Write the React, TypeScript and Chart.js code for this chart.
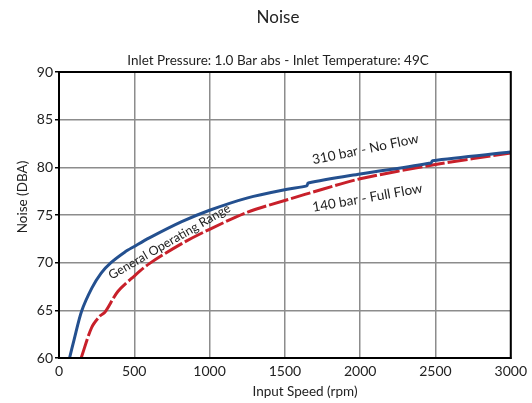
import React, { useEffect, useRef } from "react";
import { Chart, registerables } from "chart.js";

Chart.register(...registerables);

const FONT = "Lato";

const noFlowRpm = [70, 100, 150, 217, 280, 345, 436, 500, 600, 815, 1000, 1253, 1516, 1645, 1655, 2000, 2470, 2480, 3000];
const noFlowDba = [60, 61.9, 64.9, 67.3, 68.9, 70, 71.1, 71.7, 72.6, 74.3, 75.5, 76.8, 77.7, 78.05, 78.35, 79.3, 80.45, 80.7, 81.6];

const fullFlowRpm = [147, 217, 272, 305, 392, 500, 600, 815, 1000, 1253, 1516, 1750, 2000, 2500, 3000];
const fullFlowDba = [60, 63.2, 64.4, 64.8, 67.0, 68.6, 69.9, 72.0, 73.5, 75.3, 76.6, 77.7, 78.8, 80.3, 81.5];

const seriesNames = ["310 bar - No Flow", "140 bar - Full Flow"];
const titleText = "Noise";
const subtitleText = "Inlet Pressure: 1.0 Bar abs - Inlet Temperature: 49C";
const xTitle = "Input Speed (rpm)";
const yTitle = "Noise (DBA)";
const rangeLabel = "General Operating Range";

const BLUE = "#24508f";
const RED = "#c8202a";

export default function App() {
  const ref = useRef<HTMLCanvasElement | null>(null);

  useEffect(() => {
    const canvas = ref.current;
    if (!canvas) return;

    const textPlugin = {
      id: "texts",
      afterDraw(chart: any) {
        const ctx = chart.ctx as CanvasRenderingContext2D;
        const a = chart.chartArea;
        const xs = chart.scales.x;
        const ys = chart.scales.y;
        ctx.save();
        ctx.strokeStyle = "#000";
        ctx.lineWidth = 2;
        ctx.strokeRect(a.left, a.top, a.right - a.left, a.bottom - a.top);

        ctx.fillStyle = "#222";
        ctx.textAlign = "center";
        ctx.textBaseline = "middle";
        ctx.font = `17px ${FONT}`;
        ctx.fillText(titleText, 278, 18);
        ctx.font = `13.5px ${FONT}`;
        ctx.fillText(subtitleText, 278, 61);

        ctx.font = `13.5px ${FONT}`;
        ctx.fillText(xTitle, 305, 392);
        ctx.save();
        ctx.translate(23, 197);
        ctx.rotate(-Math.PI / 2);
        ctx.fillText(yTitle, 0, 0);
        ctx.restore();

        const rotLabel = (t: string, rpm: number, dba: number, deg: number, size: number) => {
          ctx.save();
          ctx.translate(xs.getPixelForValue(rpm), ys.getPixelForValue(dba));
          ctx.rotate((deg * Math.PI) / 180);
          ctx.font = `${size}px ${FONT}`;
          ctx.fillText(t, 0, 0);
          ctx.restore();
        };
        rotLabel(rangeLabel, 734, 72.2, -30, 12.5);
        rotLabel(seriesNames[0], 2035, 81.9, -11.5, 13.5);
        rotLabel(seriesNames[1], 2048, 76.8, -10, 13.5);
        ctx.restore();
      },
    };

    const chart = new Chart(canvas, {
      type: "line",
      data: {
        datasets: [
          {
            label: seriesNames[0],
            data: noFlowRpm.map((x, i) => ({ x, y: noFlowDba[i] })),
            borderColor: BLUE,
            borderWidth: 3,
            pointRadius: 0,
            tension: 0.3,
            fill: false,
          },
          {
            label: seriesNames[1],
            data: fullFlowRpm.map((x, i) => ({ x, y: fullFlowDba[i] })),
            borderColor: RED,
            borderWidth: 3,
            borderDash: [20, 3],
            pointRadius: 0,
            tension: 0.3,
            fill: false,
          },
        ],
      },
      options: {
        animation: false,
        responsive: false,
        maintainAspectRatio: false,
        layout: { padding: { left: 0, top: 72, right: 16, bottom: 0 } },
        plugins: { legend: { display: false }, tooltip: { enabled: false }, title: { display: false } },
        scales: {
          x: {
            type: "linear",
            min: 0,
            max: 3000,
            afterFit: (s: any) => {
              s.height = 45;
            },
            ticks: {
              stepSize: 500,
              color: "#222",
              font: { family: FONT, size: 14 },
              padding: 5,
              callback: (v: any) => String(v),
            },
            grid: { color: "#8c8c8c", lineWidth: 1.5, drawTicks: false },
            border: { color: "#000", width: 2 },
          },
          y: {
            min: 60,
            max: 90,
            afterFit: (s: any) => {
              s.width = 59;
            },
            ticks: { stepSize: 5, color: "#222", font: { family: FONT, size: 14 }, padding: 2 },
            grid: { color: "#8c8c8c", lineWidth: 1.5, tickLength: 4, tickColor: "#000", tickWidth: 1.5 },
            border: { color: "#000", width: 2 },
          },
        },
      } as any,
      plugins: [textPlugin],
    });
    return () => chart.destroy();
  }, []);

  return (
    <div style={{ position: "fixed", left: 0, top: 0, width: 532, height: 403, background: "#fff" }}>
      <canvas ref={ref} width={532} height={403} style={{ width: 532, height: 403, display: "block" }} />
    </div>
  );
}
